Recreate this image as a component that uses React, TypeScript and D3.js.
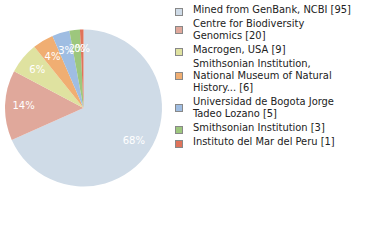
import React from "react";
import * as d3 from "d3";

const categories = [
  "Mined from GenBank, NCBI",
  "Centre for Biodiversity\nGenomics",
  "Macrogen, USA",
  "Smithsonian Institution,\nNational Museum of Natural\nHistory...",
  "Universidad de Bogota Jorge\nTadeo Lozano",
  "Smithsonian Institution",
  "Instituto del Mar del Peru",
];
const counts = [95, 20, 9, 6, 5, 3, 1];
const colors = ["#cfdbe7", "#e0a89b", "#dfe2a0", "#f0ae72", "#9fbde2", "#9dc77d", "#e0735a"];

const W = 380, H = 240;
const cx = 83.5, cy = 108, R = 78.5, labelR = 60;

export default function App() {
  const total = d3.sum(counts);
  const pie = d3.pie<number>().sort(null).value((d) => d);
  const arcs = pie(counts);
  const arc = d3.arc<d3.PieArcDatum<number>>().innerRadius(0).outerRadius(R);
  const labelArc = d3.arc<d3.PieArcDatum<number>>().innerRadius(labelR).outerRadius(labelR);

  // legend layout
  const b0 = 12.5, L = 12, gap = 2;
  let lineIdx = 0;
  let itemIdx = 0;
  const legend = categories.map((c, i) => {
    const lines = c.split("\n");
    lines[lines.length - 1] += ` [${counts[i]}]`;
    const first = b0 + lineIdx * L + itemIdx * gap;
    const baselines = lines.map((_, j) => first + j * L);
    lineIdx += lines.length;
    itemIdx += 1;
    const last = baselines[baselines.length - 1];
    const mid = (first + last) / 2;
    return { lines, baselines, sqCenter: lines.length > 1 ? mid - 2.5 : mid - 0.5 };
  });

  return (
    <svg width={W} height={H} style={{ position: "fixed", left: 0, top: 0, background: "#fff" }}>
      <g transform={`translate(${cx},${cy})`}>
        {arcs.map((a, i) => (
          <path key={i} d={arc(a) || ""} fill={colors[i]} />
        ))}
        {arcs.map((a, i) => {
          const [x, y] = labelArc.centroid(a);
          return (
            <text
              key={"l" + i}
              x={x}
              y={y}
              textAnchor="middle"
              dominantBaseline="central"
              fill="#fff"
              fontFamily="DejaVu Sans"
              fontSize={10}
            >
              {Math.floor((counts[i] / total) * 100)}%
            </text>
          );
        })}
      </g>
      <g>
        {legend.map((item, i) => (
          <g key={i}>
            <rect
              x={175.5}
              y={item.sqCenter - 3.5}
              width={7}
              height={7}
              fill={colors[i]}
              stroke="#888"
              strokeWidth={1}
            />
            {item.lines.map((ln, j) => (
              <text
                key={j}
                x={193}
                y={item.baselines[j]}
                fontFamily="DejaVu Sans Condensed"
                fontSize={11}
                fill="#222"
              >
                {ln}
              </text>
            ))}
          </g>
        ))}
      </g>
    </svg>
  );
}
